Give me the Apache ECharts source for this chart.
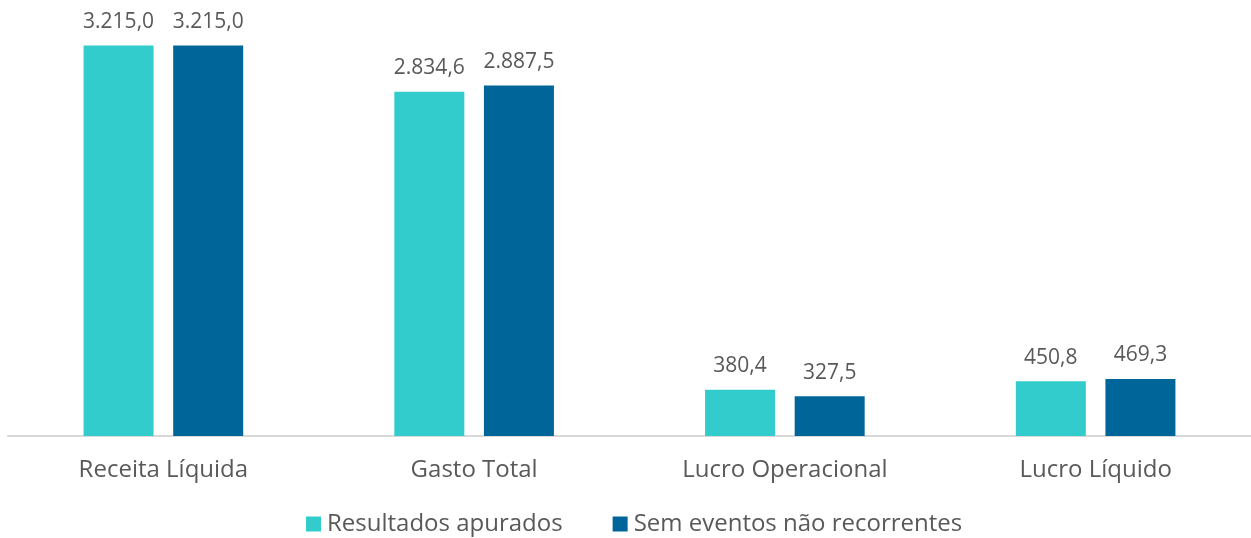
<!DOCTYPE html>
<html>
<head>
<meta charset="utf-8">
<script src="https://cdn.jsdelivr.net/npm/echarts@6/dist/echarts.min.js"></script>
<style>
  html, body { margin: 0; padding: 0; background: #fff; }
  #chart { width: 1251px; height: 538px; }
</style>
</head>
<body>
<div id="chart"></div>
<script>
const categories = ["Receita Líquida", "Gasto Total", "Lucro Operacional", "Lucro Líquido"];
const seriesNames = ["Resultados apurados", "Sem eventos não recorrentes"];
const apurados = [3215.0, 2834.6, 380.4, 450.8];
const semEventos = [3215.0, 2887.5, 327.5, 469.3];

// 3.215,0 style
const fmt = (v) => {
  const [int, dec] = v.toFixed(1).split(".");
  return int.replace(/\B(?=(\d{3})+(?!\d))/g, ".") + "," + dec;
};

const chart = echarts.init(document.getElementById("chart"));
const labelStyle = {
  show: true,
  position: "top",
  distance: 13,
  color: "#595959",
  fontFamily: "Open Sans",
  fontSize: 21,
  formatter: (p) => fmt(p.value),
};

chart.setOption({
  animation: false,
  textStyle: { fontFamily: "Open Sans" },
  grid: { left: 8, right: 0, top: 11, bottom: 102 },
  legend: {
    top: 512,
    left: 306,
    padding: 0,
    itemWidth: 15,
    itemHeight: 15,
    itemGap: 50,
    icon: "rect",
    textStyle: { color: "#595959", fontSize: 24, fontFamily: "Open Sans", padding: [0, 0, 0, 1] },
    data: seriesNames,
  },
  xAxis: {
    type: "category",
    data: categories,
    axisTick: { show: false },
    axisLine: { lineStyle: { color: "#d9d9d9", width: 2 } },
    axisLabel: { color: "#595959", fontSize: 24, margin: 22, fontFamily: "Open Sans" },
  },
  yAxis: {
    type: "value",
    min: 0,
    max: 3500,
    show: false,
    splitLine: { show: false },
  },
  series: [
    {
      name: seriesNames[0],
      type: "bar",
      data: apurados,
      barWidth: 70,
      barGap: "28%",
      itemStyle: { color: "#33cccc" },
      label: labelStyle,
    },
    {
      name: seriesNames[1],
      type: "bar",
      data: semEventos,
      barWidth: 70,
      itemStyle: { color: "#006699" },
      label: labelStyle,
    },
  ],
});
</script>
</body>
</html>
